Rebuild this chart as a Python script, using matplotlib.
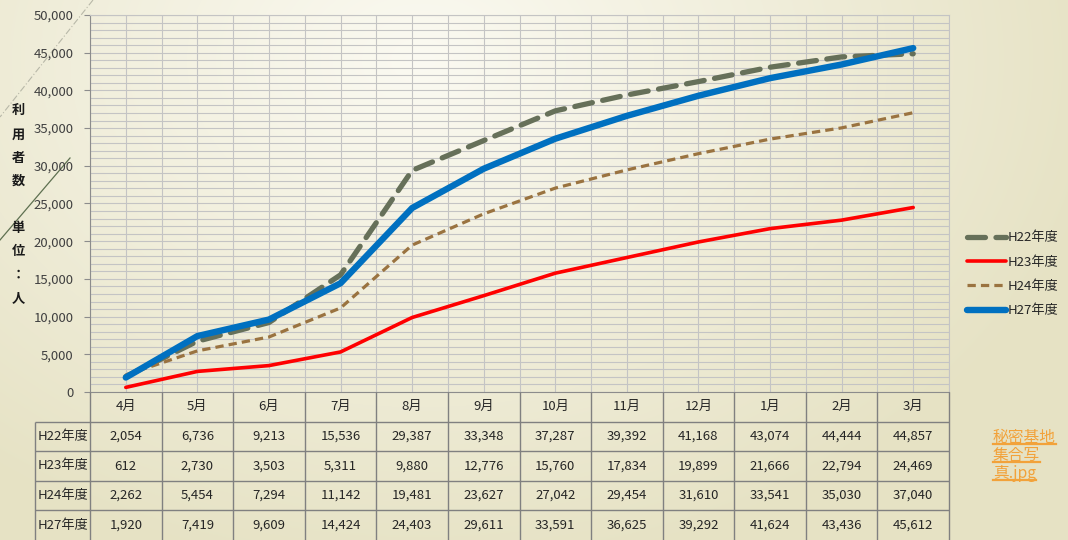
import numpy as np
import matplotlib
matplotlib.use("Agg")
import matplotlib.pyplot as plt
from matplotlib.lines import Line2D
from matplotlib.ticker import MultipleLocator, FuncFormatter

plt.rcParams['font.family'] = ['Noto Sans CJK JP', 'DejaVu Sans']

months = ["4月", "5月", "6月", "7月", "8月", "9月", "10月", "11月", "12月", "1月", "2月", "3月"]
series_names = ["H22年度", "H23年度", "H24年度", "H27年度"]
h22 = [2054, 6736, 9213, 15536, 29387, 33348, 37287, 39392, 41168, 43074, 44444, 44857]
h23 = [612, 2730, 3503, 5311, 9880, 12776, 15760, 17834, 19899, 21666, 22794, 24469]
h24 = [2262, 5454, 7294, 11142, 19481, 23627, 27042, 29454, 31610, 33541, 35030, 37040]
h27 = [1920, 7419, 9609, 14424, 24403, 29611, 33591, 36625, 39292, 41624, 43436, 45612]
series_values = [h22, h23, h24, h27]
ylabel_chars = ["利", "用", "者", "数", "", "単", "位", "：", "人"]
link_lines = ["秘密基地", "集合写", "真.jpg"]

W, H = 1068, 540
fig = plt.figure(figsize=(W / 100, H / 100), dpi=100)

# background gradient
bg = fig.add_axes([0, 0, 1, 1], zorder=-10)
yy, xx = np.mgrid[0:H, 0:W]
d = np.sqrt(((xx - 420) / 700.0) ** 2 + ((yy - 60) / 520.0) ** 2)
d = np.clip(d, 0, 1)
c0 = np.array([0xFB, 0xFA, 0xF2]) / 255.0
c1 = np.array([0xE6, 0xE2, 0xC4]) / 255.0
img = c0[None, None, :] * (1 - d[..., None]) + c1[None, None, :] * d[..., None]
bg.imshow(img, aspect='auto', extent=[0, W, H, 0])
bg.set_xlim(0, W)
bg.set_ylim(H, 0)
bg.axis('off')
# decorative diagonal strokes
bg.plot([93, 0], [0, 117], color='#B8B8A8', lw=0.8, ls=(0, (6, 2, 1, 2)))
bg.plot([70, 0], [158, 240], color='#5E7050', lw=0.9)

# main chart
L, R, T, B = 90, 949, 15, 392
ax = fig.add_axes([L / W, 1 - B / H, (R - L) / W, (B - T) / H])
ax.set_facecolor('none')
x = np.arange(len(months))
ax.set_xlim(-0.5, len(months) - 0.5)
ax.set_ylim(0, 50000)

ax.yaxis.set_major_locator(MultipleLocator(5000))
ax.yaxis.set_minor_locator(MultipleLocator(1000))
ax.yaxis.set_major_formatter(FuncFormatter(lambda v, p: f"{int(v):,}"))
ax.xaxis.set_major_locator(MultipleLocator(0.5))
ax.tick_params(axis='x', which='both', length=0, labelbottom=False)
ax.tick_params(axis='y', which='major', length=4, color='#8C8C8C', labelsize=9.5,
               labelcolor='#404040', pad=8)
ax.tick_params(axis='y', which='minor', length=0)
ax.grid(True, which='both', axis='y', color='#C4C4C4', lw=0.8)
ax.grid(True, which='major', axis='x', color='#C4C4C4', lw=0.8)
ax.set_axisbelow(True)
for s in ['top', 'right']:
    ax.spines[s].set_color('#C4C4C4')
    ax.spines[s].set_linewidth(0.8)
ax.spines['left'].set_color('#8C8C8C')
ax.spines['bottom'].set_color('#8C8C8C')

styles = [
    dict(color='#667059', lw=3.8, ls=(0, (3.4, 2.0)), dash_capstyle='round'),
    dict(color='#FF0000', lw=2.6, ls='-', solid_capstyle='round'),
    dict(color='#9A7340', lw=2.3, ls=(0, (2.6, 1.6))),
    dict(color='#0070C0', lw=4.6, ls='-', solid_capstyle='round', solid_joinstyle='round'),
]
zorders = [3, 3, 3, 4]
handles = []
for name, vals, st, z in zip(series_names, series_values, styles, zorders):
    h, = ax.plot(x, vals, label=name, zorder=z, clip_on=False, **st)
    handles.append(h)

leg = fig.legend(handles=handles, labels=series_names, loc='upper left',
                 bbox_to_anchor=(962 / W, 1 - 226 / H), frameon=False,
                 fontsize=9.5, handlelength=2.9, handletextpad=0.15,
                 labelspacing=0.86, borderaxespad=0)
for t in leg.get_texts():
    t.set_color('#262626')

# y label (stacked characters)
ypos = [110, 135, 158, 181, 205, 228, 251, 275, 298]
for ch, yp in zip(ylabel_chars, ypos):
    if ch:
        fig.text(18 / W, 1 - yp / H, ch, ha='center', va='center', fontsize=9.5,
                 fontweight='bold', color='#1A1A1A')

# data table
px_per_cat = (R - L) / len(months)
lab_left = 35
tab = fig.add_axes([lab_left / W, 0, (R - lab_left) / W, (H - B) / H])
tab.set_facecolor('none')
xl = -0.5 - (L - lab_left) / px_per_cat
tab.set_xlim(xl, len(months) - 0.5)
tab.set_ylim(5, 0)
tab.axis('off')
gc = '#808080'
tab.hlines([1, 2, 3, 4], xl, len(months) - 0.5, color=gc, lw=1.0, clip_on=False)
tab.vlines(np.arange(len(months) + 1) - 0.5, 0, 5, color=gc, lw=1.0, clip_on=False)
tab.vlines([xl], 1, 5, color=gc, lw=1.0, clip_on=False)
for i, m in enumerate(months):
    tab.text(i, 0.5, m, ha='center', va='center', fontsize=9.5, color='#262626')
for r, (name, vals) in enumerate(zip(series_names, series_values)):
    tab.text(xl + 0.03, r + 1.5, name, ha='left', va='center', fontsize=9.5, color='#262626')
    for i, v in enumerate(vals):
        tab.text(i, r + 1.5, f"{v:,}", ha='center', va='center', fontsize=9.5, color='#262626')

# hyperlink text
link_color = '#F2A23A'
link_texts = []
for k, s in enumerate(link_lines):
    t = fig.text(993 / W, 1 - (437 + 18 * k) / H, s, ha='left', va='center',
                 fontsize=11.3, color=link_color)
    link_texts.append(t)
fig.canvas.draw()
rend = fig.canvas.get_renderer()
for t in link_texts:
    bb = t.get_window_extent(rend)
    yline = (bb.y0 + 1.5) / H
    fig.add_artist(Line2D([bb.x0 / W, bb.x1 / W], [yline, yline],
                          transform=fig.transFigure, color=link_color, lw=1.6))

fig.savefig("out.png", dpi=100)
